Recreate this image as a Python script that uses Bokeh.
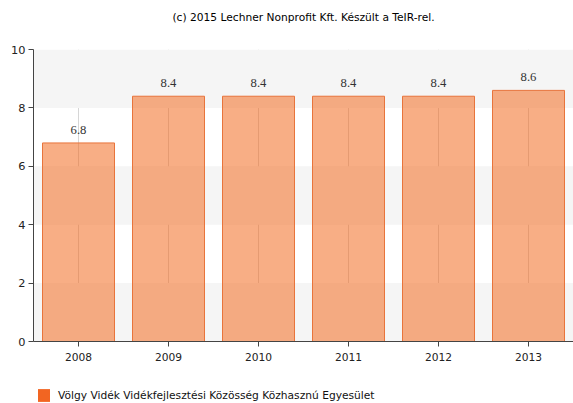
from bokeh.plotting import figure
from bokeh.layouts import column
from bokeh.models import ColumnDataSource, LabelSet, Label, Legend, LegendItem, FactorRange, Range1d, FixedTicker, BoxAnnotation
from bokeh.embed import file_html
from bokeh.resources import INLINE

years = ["2008", "2009", "2010", "2011", "2012", "2013"]
values = [6.8, 8.4, 8.4, 8.4, 8.4, 8.6]
labels = ["6.8", "8.4", "8.4", "8.4", "8.4", "8.6"]
series_name = "Völgy Vidék Vidékfejlesztési Közösség Közhasznú Egyesület"
title_text = "(c) 2015 Lechner Nonprofit Kft. Készült a TeIR-rel."
y_ticks = [0, 2, 4, 6, 8, 10]

FONT = "DejaVu Sans"
W = 573

src = ColumnDataSource(dict(x=years, top=values, label=labels))

# ---- title strip (frame is aligned with the main chart's frame) ----
tf = figure(width=W, height=41, x_range=Range1d(0, 1), y_range=Range1d(0, 1),
            output_backend="svg", toolbar_location=None, title=None,
            x_axis_location=None, y_axis_location=None,
            min_border_left=0, min_border_right=0, min_border_top=0, min_border_bottom=0)
tf.grid.visible = False
tf.outline_line_color = None
tf.add_layout(Label(x=270, y=24, x_units="screen", y_units="screen", text=title_text,
                    text_align="center", text_baseline="middle", text_font=FONT,
                    text_font_size="8pt", text_color="#000000"))

# ---- main chart ----
p = figure(width=W, height=339, x_range=FactorRange(*years), y_range=Range1d(0, 10),
           output_backend="svg", toolbar_location=None, title=None,
           min_border_left=33, min_border_right=0, min_border_top=8, min_border_bottom=39)
p.outline_line_color = None
p.background_fill_color = "white"

# alternating background bands (0-2, 4-6, 8-10)
for i in range(0, len(y_ticks) - 1, 2):
    p.add_layout(BoxAnnotation(bottom=y_ticks[i], top=y_ticks[i + 1], fill_color="#f5f5f5",
                               fill_alpha=1.0, line_color=None, level="underlay"))

bars = p.vbar(x="x", top="top", width=0.8, source=src, fill_color="#f26b21", fill_alpha=0.55,
              line_color="#e8743b", line_width=1)

labs = LabelSet(x="x", y="top", text="label", source=src, text_align="center",
                text_baseline="bottom", y_offset=9, text_font=FONT, text_font_size="9.5pt",
                text_color="#333333")
p.add_layout(labs)

p.xgrid.grid_line_color = "#d6d6d6"
p.xgrid.grid_line_width = 1
p.ygrid.grid_line_color = None
p.yaxis.ticker = FixedTicker(ticks=y_ticks)

for ax in [p.xaxis[0], p.yaxis[0]]:
    ax.axis_line_color = "#444444"
    ax.major_tick_line_color = "#444444"
    ax.major_tick_in = 0
    ax.major_tick_out = 5
    ax.minor_tick_line_color = None
    ax.major_label_text_font = FONT
    ax.major_label_text_color = "#222222"
p.yaxis.major_label_text_font_size = "8.5pt"
p.xaxis.major_label_text_font_size = "8pt"
p.xaxis.major_label_standoff = 6
p.yaxis.major_label_standoff = 3

# ---- legend strip ----
lf = figure(width=W, height=23, x_range=FactorRange(*years), y_range=Range1d(0, 1),
            output_backend="svg", toolbar_location=None, title=None,
            x_axis_location=None, y_axis_location=None,
            min_border_left=0, min_border_right=0, min_border_top=0, min_border_bottom=0)
lf.grid.visible = False
lf.outline_line_color = None
# zero-width proxy of the series, used only for its legend swatch
proxy = lf.vbar(x="x", top="top", width=0, source=src, fill_color="#f26522", line_color=None)
legend = Legend(items=[LegendItem(label=series_name, renderers=[proxy])],
                orientation="horizontal", location=(3, 0),
                label_text_font=FONT, label_text_font_size="8pt", label_text_color="#111111",
                glyph_width=15, glyph_height=16, border_line_color=None,
                background_fill_alpha=0, padding=0, margin=0, spacing=0, label_standoff=7,
                label_height=16)
lf.add_layout(legend, "center")

layout = column(tf, p, lf, spacing=0)
open("out.html", "w").write(file_html(layout, INLINE))
